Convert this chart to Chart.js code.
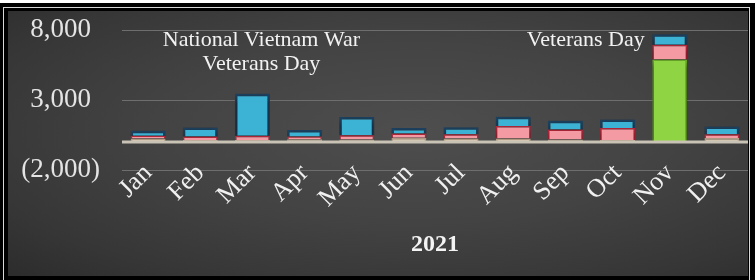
<!DOCTYPE html>
<html>
<head>
<meta charset="utf-8">
<script src="https://cdn.jsdelivr.net/npm/chart.js@4.4.1/dist/chart.umd.min.js"></script>
<style>
  html, body { margin: 0; padding: 0; background: #ffffff; width: 755px; height: 280px; overflow: hidden; }
  #frame { position: absolute; left: 0; top: 3px; width: 755px; height: 277px; background: #000; }
  #line { position: absolute; left: 3px; top: 7px; width: 747px; height: 280px; border: 1px solid #d8d8d8; box-sizing: border-box; }
  #wrap { position: absolute; left: 8px; top: 11px; width: 740px; height: 265px;
          background: radial-gradient(ellipse at 55% 45%, #4e4e4e 0%, #434343 45%, #363636 80%, #2c2c2c 100%); }
</style>
</head>
<body>
<div id="frame"></div>
<div id="line"></div>
<div id="wrap"><canvas id="c" width="740" height="265"></canvas></div>
<script>
const categories = ['Jan','Feb','Mar','Apr','May','Jun','Jul','Aug','Sep','Oct','Nov','Dec'];
const seriesBottom = [250, 150, 150, 200, 170, 300, 250, 250, 170, 150, 5900, 280];
const seriesMiddle = [200, 250, 300, 200, 310, 300, 300, 900, 720, 850, 1050, 280];
const seriesTop    = [350, 630, 3000, 450, 1310, 400, 500, 650, 630, 600, 750, 550];
const yTickValues = [-2000, 3000, 8000];
const xTitle = '2021';
const annotations = [
  { lines: ['National Vietnam War', 'Veterans Day'], category: 'Mar' },
  { lines: ['Veterans Day'], category: 'Nov' }
];

function fmt(v) {
  const s = Math.abs(v).toLocaleString('en-US');
  return v < 0 ? '(' + s + ')' : s + '\u2004';
}

const bottomFill = categories.map(c => c === 'Nov' ? '#8fd443' : '#dccab0');
const bottomBorder = categories.map(c => c === 'Nov' ? '#6fae2c' : '#b8a088');

const serif = "'Liberation Serif', 'DejaVu Serif', serif";

const extras = {
  id: 'extras',
  beforeDatasetsDraw(chart) {
    const ctx = chart.ctx;
    ctx.save();
    ctx.shadowColor = 'rgba(0,0,0,0.65)';
    ctx.shadowBlur = 6;
    ctx.shadowOffsetY = 3;
  },
  afterDatasetsDraw(chart) {
    const ctx = chart.ctx;
    ctx.restore();
    const y = chart.scales.y.getPixelForValue(0);
    const a = chart.chartArea;
    ctx.save();
    ctx.strokeStyle = '#c9c3b5';
    ctx.lineWidth = 3;
    ctx.beginPath();
    ctx.moveTo(a.left, y);
    ctx.lineTo(a.right, y);
    ctx.stroke();
    ctx.restore();
  },
  afterDraw(chart) {
    const ctx = chart.ctx;
    const xs = chart.scales.x, ys = chart.scales.y;
    ctx.save();
    ctx.fillStyle = '#f2f2f2';
    ctx.font = '22px ' + serif;
    ctx.textBaseline = 'middle';
    const a0 = annotations[0];
    const i0 = categories.indexOf(a0.category);
    const x0 = xs.getPixelForValue(i0) + 9;
    ctx.textAlign = 'center';
    ctx.fillText(a0.lines[0], x0, ys.getPixelForValue(7300));
    ctx.fillText(a0.lines[1], x0, ys.getPixelForValue(5550));
    const a1 = annotations[1];
    const i1 = categories.indexOf(a1.category);
    const x1 = xs.getPixelForValue(i1) - 25;
    ctx.textAlign = 'right';
    ctx.fillText(a1.lines[0], x1, ys.getPixelForValue(7300));
    ctx.restore();
  }
};

new Chart(document.getElementById('c'), {
  type: 'bar',
  data: {
    labels: categories,
    datasets: [
      { data: seriesBottom, backgroundColor: bottomFill, borderColor: bottomBorder, borderWidth: 1.5 },
      { data: seriesMiddle, backgroundColor: '#f39aa2', borderColor: '#b8283c', borderWidth: 1.5 },
      { data: seriesTop, backgroundColor: '#3cb2d4', borderColor: '#1d4260', borderWidth: 2.5 }
    ]
  },
  options: {
    responsive: false,
    animation: false,
    layout: { padding: 0 },
    datasets: { bar: { categoryPercentage: 1, barPercentage: 0.67 } },
    plugins: { legend: { display: false }, tooltip: { enabled: false } },
    scales: {
      x: {
        stacked: true,
        grid: { display: false, drawTicks: false },
        border: { display: false },
        ticks: {
          color: '#f0f0f0', font: { family: serif, size: 26 },
          maxRotation: 45, minRotation: 45, autoSkip: false, padding: -12
        },
        title: { display: true, text: xTitle, color: '#f4f4f4',
                 font: { family: serif, size: 24, weight: 'bold' }, padding: { top: 0, bottom: 17 } },
        afterFit(s) {
          s.height = 106; s.paddingRight = 0;
          s._computeLabelArea = function () { return undefined; };
        }
      },
      y: {
        stacked: true,
        min: -2000, max: 8000,
        afterBuildTicks(s) { s.ticks = yTickValues.map(v => ({ value: v })); },
        grid: { color: '#6e6e6e', lineWidth: 1, drawTicks: false },
        border: { display: false },
        ticks: { color: '#e4e4e4', font: { family: serif, size: 27 }, padding: 22, callback: v => fmt(v) },
        afterFit(s) { s.width = 114; s.paddingTop = 19; s.paddingBottom = 0; }
      }
    }
  },
  plugins: [extras]
});
</script>
</body>
</html>
